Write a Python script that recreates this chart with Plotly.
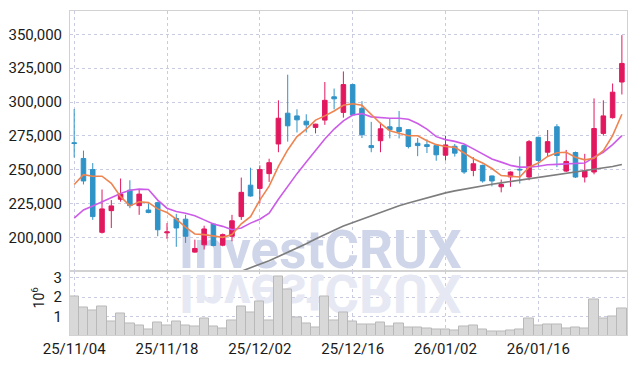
import plotly.graph_objects as go

# ---------------- data ----------------
dates = [
    "25/11/04", "25/11/05", "25/11/06", "25/11/07", "25/11/10", "25/11/11", "25/11/12", "25/11/13", "25/11/14", "25/11/17",
    "25/11/18", "25/11/19", "25/11/20", "25/11/21", "25/11/24", "25/11/25", "25/11/26", "25/11/27", "25/11/28", "25/12/01",
    "25/12/02", "25/12/03", "25/12/04", "25/12/05", "25/12/08", "25/12/09", "25/12/10", "25/12/11", "25/12/12", "25/12/15",
    "25/12/16", "25/12/17", "25/12/18", "25/12/19", "25/12/22", "25/12/23", "25/12/24", "25/12/26", "25/12/29", "25/12/30",
    "26/01/02", "26/01/05", "26/01/06", "26/01/07", "26/01/08", "26/01/09", "26/01/12", "26/01/13", "26/01/14", "26/01/15",
    "26/01/16", "26/01/19", "26/01/20", "26/01/21", "26/01/22", "26/01/23", "26/01/26", "26/01/27", "26/01/28", "26/01/29",
]

opens = [
    270000, 258400, 250200, 203900, 219900, 228300, 235000, 223600, 220400, 225800,
    203500, 214100, 213600, 189300, 194700, 210000, 194400, 201000, 215500, 238700,
    236300, 247200, 269100, 291800, 289800, 285900, 281300, 286700, 303900, 292400,
    312900, 295400, 267900, 271500, 281800, 281300, 279600, 269600, 268600, 267900,
    260800, 267400, 267900, 249600, 253300, 245500, 237500, 244800, 250400, 244700,
    274000, 263000, 281800, 249100, 262800, 244700, 248400, 276900, 288500, 314800,
]
highs = [
    294900, 264200, 255000, 235500, 227700, 243600, 242300, 235500, 225300, 226500,
    210700, 217500, 216800, 198500, 208800, 210700, 203000, 216800, 244300, 251600,
    253300, 258200, 301300, 320200, 294700, 291000, 284000, 314800, 310000, 322600,
    313500, 300700, 285400, 284900, 288100, 293400, 280000, 273500, 272500, 268200,
    275200, 269100, 268200, 259300, 253800, 245800, 242800, 248800, 259900, 272000,
    274500, 279400, 283700, 264700, 263500, 261800, 302700, 301300, 313700, 349400,
]
lows = [
    259100, 239200, 213100, 203000, 207100, 226500, 221700, 216800, 218000, 201000,
    199100, 193200, 196100, 188800, 191200, 193600, 193600, 197300, 213100, 230200,
    225300, 241100, 263000, 270800, 277600, 277600, 276900, 283200, 294700, 288500,
    289600, 273500, 263000, 263000, 273200, 273200, 265800, 260100, 262400, 256700,
    256900, 259800, 247000, 245300, 240600, 237800, 233400, 237500, 239900, 242300,
    252000, 259900, 252000, 248400, 244000, 240700, 246700, 275200, 287800, 305600,
]
closes = [
    269500, 241800, 215500, 221200, 223400, 232100, 223600, 232100, 218500, 205800,
    204200, 207100, 201000, 192000, 206400, 194200, 202200, 212400, 233400, 230700,
    250200, 255300, 288100, 282500, 286900, 283200, 283700, 301300, 302400, 312900,
    290500, 275900, 266400, 280300, 279600, 278300, 267200, 267900, 267200, 261100,
    268400, 262300, 248400, 254500, 241800, 241800, 239200, 248400, 250000, 270800,
    256900, 270800, 260600, 256200, 244700, 249100, 280500, 289800, 307300, 328500,
]
volumes = [
    2030000, 1480000, 1330000, 1530000, 750000, 1150000, 650000, 580000, 350000, 700000,
    580000, 780000, 550000, 500000, 900000, 500000, 400000, 830000, 1530000, 1200000,
    1780000, 830000, 3030000, 2400000, 950000, 650000, 480000, 2030000, 830000, 1200000,
    780000, 620000, 620000, 730000, 530000, 680000, 480000, 480000, 430000, 380000,
    380000, 330000, 530000, 580000, 380000, 280000, 280000, 330000, 380000, 930000,
    580000, 630000, 630000, 430000, 480000, 430000, 1880000, 930000, 1030000, 1430000,
]
ma_short = [
    239200, 246500, 245300, 245300, 240000, 230200, 223400, 226500, 225800, 221200,
    218500, 213600, 207800, 202700, 202200, 201200, 200200, 202200, 210200, 215500,
    227700, 238000, 252600, 264700, 274500, 280100, 286700, 289800, 293400, 297700,
    298800, 297600, 291000, 284200, 278800, 276900, 275200, 275200, 271500, 268600,
    267200, 266600, 262300, 258200, 255000, 251000, 245800, 245300, 244700, 252000,
    255000, 259900, 262600, 263000, 259300, 257400, 258600, 264200, 275200, 291000,
]
ma_mid = [
    214400, 220400, 223400, 226500, 229700, 232600, 235000, 235800, 235500, 227700,
    221700, 219200, 218000, 216100, 213100, 210000, 208300, 205800, 207100, 210700,
    213600, 218000, 228300, 238000, 247200, 255700, 264700, 272800, 280100, 286200,
    290500, 291500, 289100, 288500, 288100, 288100, 287400, 284200, 280100, 274500,
    272300, 271000, 269100, 265500, 261500, 258000, 255700, 253300, 252000, 252000,
    252600, 253800, 254000, 254500, 254500, 255000, 259300, 263000, 268600, 275200,
]
ma_long = [
    None, None, None, None, None, None, None, None, None, None,
    None, None, None, None, None, None, None, 172500, 175000, 177500,
    180000, 183000, 186000, 189000, 192000, 195500, 199000, 202500, 205500, 208500,
    211000, 214000, 216500, 219000, 221500, 223500, 225500, 227500, 229500, 231500,
    233000, 234500, 235800, 237000, 238200, 239400, 240400, 241400, 242400, 243300,
    244200, 245200, 246200, 247200, 248100, 249000, 250000, 251200, 252500, 254000,
]
price_ticks = [200000, 225000, 250000, 275000, 300000, 325000, 350000]
volume_ticks = [1, 2, 3]
tick_idx = [0, 10, 20, 30, 40, 50]
watermark = "InvestCRUX"

# ---------------- figure ----------------
RED = "#e2185f"
BLUE = "#3093c7"
GRID = "#c9cce0"
FRAME = "#d2d2d2"
FONT = "Roboto, sans-serif"
TICKFONT = dict(family=FONT, size=15, color="#1a1a1a")

x = list(range(len(dates)))
vol_m = [v / 1e6 for v in volumes]

fig = go.Figure()

# watermark (base subplots, drawn beneath overlay subplots)
fig.add_trace(go.Scatter(
    x=[26.5], y=[187500], mode="text", text=[watermark], textposition="middle center",
    textfont=dict(family=FONT, size=53, color="#d0d6ea", weight="bold"),
    xaxis="x", yaxis="y", hoverinfo="skip", showlegend=False))
fig.add_trace(go.Scatter(
    x=[26.5], y=[1.97], mode="text", text=[watermark], textposition="middle center",
    textfont=dict(family=FONT, size=53, color="#e6e9f3", weight="bold"),
    xaxis="x", yaxis="y2", uid="refl", hoverinfo="skip", showlegend=False))

# candles
fig.add_trace(go.Candlestick(
    x=x, open=opens, high=highs, low=lows, close=closes,
    increasing=dict(line=dict(color=RED, width=1), fillcolor=RED),
    decreasing=dict(line=dict(color=BLUE, width=1), fillcolor=BLUE),
    xaxis="x", yaxis="y3", hoverinfo="skip", showlegend=False))

# moving averages
fig.add_trace(go.Scatter(x=x, y=ma_long, mode="lines", line=dict(color="#7d7d7d", width=1.6),
                         xaxis="x", yaxis="y3", hoverinfo="skip", showlegend=False))
fig.add_trace(go.Scatter(x=x, y=ma_mid, mode="lines", line=dict(color="#cc5ce8", width=1.6),
                         xaxis="x", yaxis="y3", hoverinfo="skip", showlegend=False))
fig.add_trace(go.Scatter(x=x, y=ma_short, mode="lines", line=dict(color="#ee8450", width=1.6),
                         xaxis="x", yaxis="y3", hoverinfo="skip", showlegend=False))

# volume
fig.add_trace(go.Bar(x=x, y=vol_m, width=1.0,
                     marker=dict(color="#d8d8d8", line=dict(color="#b9b9b9", width=1)),
                     xaxis="x", yaxis="y4", hoverinfo="skip", showlegend=False))

PRICE_RANGE = [175000, 367200]
VOL_RANGE = [0.08, 3.3]

fig.update_layout(
    width=636, height=366,
    margin=dict(l=63, r=8, t=9, b=29),
    paper_bgcolor="white", plot_bgcolor="white",
    showlegend=False, hovermode=False, bargap=0,
    xaxis=dict(
        range=[-0.45, 59.55], anchor="y2",
        tickmode="array", tickvals=tick_idx, ticktext=[dates[i] for i in tick_idx],
        showgrid=True, gridcolor=GRID, griddash="dot", gridwidth=1,
        showline=True, linecolor=FRAME, linewidth=1, mirror="all",
        ticks="", zeroline=False, tickfont=TICKFONT,
        rangeslider=dict(visible=False),
    ),
    yaxis=dict(
        domain=[0.196, 1], range=PRICE_RANGE,
        tickmode="array", tickvals=price_ticks, tickformat=",d",
        showgrid=True, gridcolor=GRID, griddash="dot", gridwidth=1,
        showline=True, linecolor=FRAME, linewidth=1, mirror=True,
        ticks="", zeroline=False, tickfont=TICKFONT, ticklabelstandoff=4,
    ),
    yaxis3=dict(overlaying="y", range=PRICE_RANGE, visible=False, showgrid=False),
    yaxis2=dict(
        domain=[0, 0.196], range=VOL_RANGE,
        tickmode="array", tickvals=volume_ticks,
        showgrid=True, gridcolor=GRID, griddash="dot", gridwidth=1,
        showline=True, linecolor=FRAME, linewidth=1, mirror=True,
        ticks="", zeroline=False, tickfont=TICKFONT, ticklabelstandoff=4,
    ),
    yaxis4=dict(overlaying="y2", range=VOL_RANGE, visible=False, showgrid=False),
    annotations=[dict(
        text="10<sup>6</sup>", xref="paper", yref="paper", x=-0.058, y=0.115,
        xanchor="center", yanchor="middle",
        textangle=-90, showarrow=False,
        font=dict(family=FONT, size=14, color="#1a1a1a"),
    )],
)

post = """
var st = document.createElement('style');
st.textContent = '.tracerefl .textpoint text{transform-box:fill-box;transform-origin:center;transform:scaleY(-1);}';
document.head.appendChild(st);
"""
fig.write_html("out.html", post_script=post)
